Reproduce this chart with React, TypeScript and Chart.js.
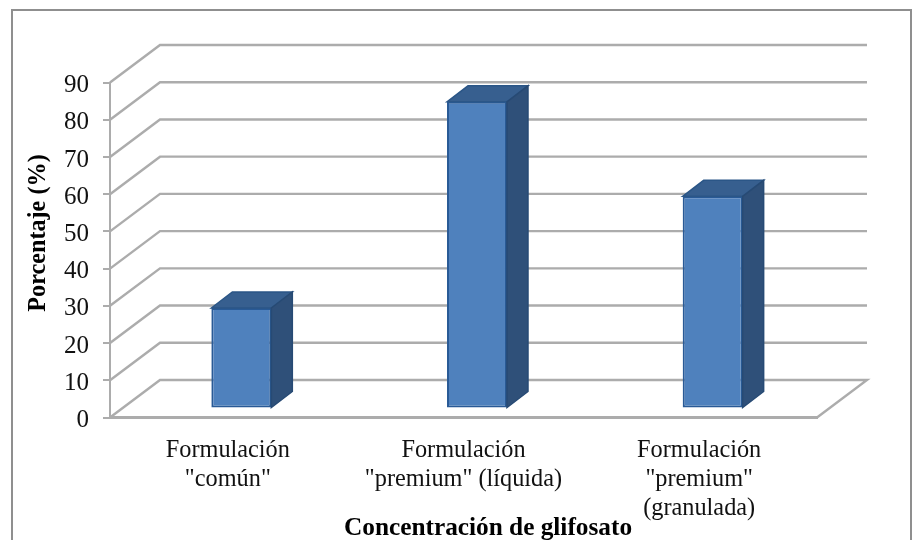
import React, { useEffect, useRef } from "react";
import { Chart, registerables } from "chart.js";

Chart.register(...registerables);

const categories: string[][] = [
  ["Formulación", "\"común\""],
  ["Formulación", "\"premium\" (líquida)"],
  ["Formulación", "\"premium\"", "(granulada)"],
];
const values: number[] = [27, 82.4, 57];
const yTitle = "Porcentaje (%)";
const xTitle = "Concentración de glifosato";
const FONT = "'Liberation Serif', 'Times New Roman', serif";
const WALL = "#acacac";

const threeD = {
  id: "threeD",
  beforeDraw(chart: any) {
    const c = chart.ctx;
    c.save();
    c.fillStyle = "#fff";
    c.fillRect(0, 0, chart.width, chart.height);
    c.strokeStyle = "#8f8f8f";
    c.lineWidth = 2;
    c.strokeRect(12, 10, 899, 600);
    c.restore();
  },
  beforeDatasetsDraw(chart: any) {
    const c = chart.ctx;
    const y = chart.scales.y;
    const { left, right } = chart.chartArea;
    const dx = 50, dy = -37.5;
    c.save();
    c.strokeStyle = WALL;
    c.lineWidth = 2.4;
    c.lineJoin = "miter";
    for (const t of y.ticks) {
      const py = y.getPixelForValue(t.value);
      c.beginPath();
      c.moveTo(left, py);
      c.lineTo(left + dx, py + dy);
      c.lineTo(right + dx, py + dy);
      if (t.value === 0) c.lineTo(right, py);
      c.stroke();
    }
    c.restore();
    // bars stand in the middle of the floor's depth
    c.save();
    c.translate(13.5, -9);
  },
  afterDatasetsDraw(chart: any) {
    const c = chart.ctx;
    const dx = 21, dy = -16;
    const meta = chart.getDatasetMeta(0);
    for (const el of meta.data) {
      const { x, y, base, width } = el.getProps(["x", "y", "base", "width"], true);
      const l = x - width / 2, r = x + width / 2;
      c.lineWidth = 1.5;
      c.strokeStyle = "#2b5687";
      c.fillStyle = "#375f8f";
      c.beginPath();
      c.moveTo(l, y);
      c.lineTo(l + dx, y + dy);
      c.lineTo(r + dx, y + dy);
      c.lineTo(r, y);
      c.closePath();
      c.fill();
      c.stroke();
      c.fillStyle = "#2f5079";
      c.strokeStyle = "#274a74";
      c.beginPath();
      c.moveTo(r, y);
      c.lineTo(r + dx, y + dy);
      c.lineTo(r + dx, base + dy);
      c.lineTo(r, base);
      c.closePath();
      c.fill();
      c.stroke();
    }
    c.restore();
  },
  afterDraw(chart: any) {
    const c = chart.ctx;
    c.save();
    c.fillStyle = "#000";
    c.textAlign = "center";
    c.textBaseline = "middle";
    c.font = `bold 25.3px ${FONT}`;
    c.fillText(xTitle, 488, 528);
    c.font = `bold 24.2px ${FONT}`;
    c.translate(39, 233);
    c.rotate(-Math.PI / 2);
    c.fillText(yTitle, 0, 0);
    c.restore();
  },
};

export default function App() {
  const ref = useRef<HTMLCanvasElement>(null);
  useEffect(() => {
    const chart = new Chart(ref.current!, {
      type: "bar",
      data: {
        labels: categories as any,
        datasets: [
          {
            data: values,
            backgroundColor: "#4f81bd",
            borderColor: "#295a96",
            borderWidth: 2,
            borderSkipped: false,
            barPercentage: 0.2545,
            categoryPercentage: 1,
            clip: false as any,
          },
        ],
      },
      options: {
        animation: false,
        responsive: false,
        layout: { padding: { top: 82.5, right: 98, left: 0, bottom: 0 } },
        plugins: { legend: { display: false }, tooltip: { enabled: false } },
        scales: {
          x: {
            grid: { display: false },
            border: { display: true, color: WALL, width: 3 },
            ticks: {
              color: "#111",
              font: { family: FONT, size: 24.3, lineHeight: "29px" } as any,
              padding: 11,
              maxRotation: 0,
              autoSkip: false,
            },
            afterFit: (s: any) => { s.height = 122.5; },
          },
          y: {
            min: 0,
            max: 90,
            grid: { drawOnChartArea: false, drawTicks: true, tickLength: 7, color: WALL, lineWidth: 2 },
            border: { display: true, color: WALL, width: 2 },
            ticks: {
              stepSize: 10,
              color: "#111",
              font: { family: FONT, size: 25, lineHeight: "6px" } as any,
              padding: 14,
              callback: (v: any) => ["", String(v)],
            },
            afterFit: (s: any) => { s.width = 110; },
          },
        },
      },
      plugins: [threeD],
    });
    return () => chart.destroy();
  }, []);
  return (
    <canvas
      ref={ref}
      width={915}
      height={540}
      style={{ position: "absolute", left: 0, top: 0, display: "block", filter: "blur(0.35px)" }}
    />
  );
}
